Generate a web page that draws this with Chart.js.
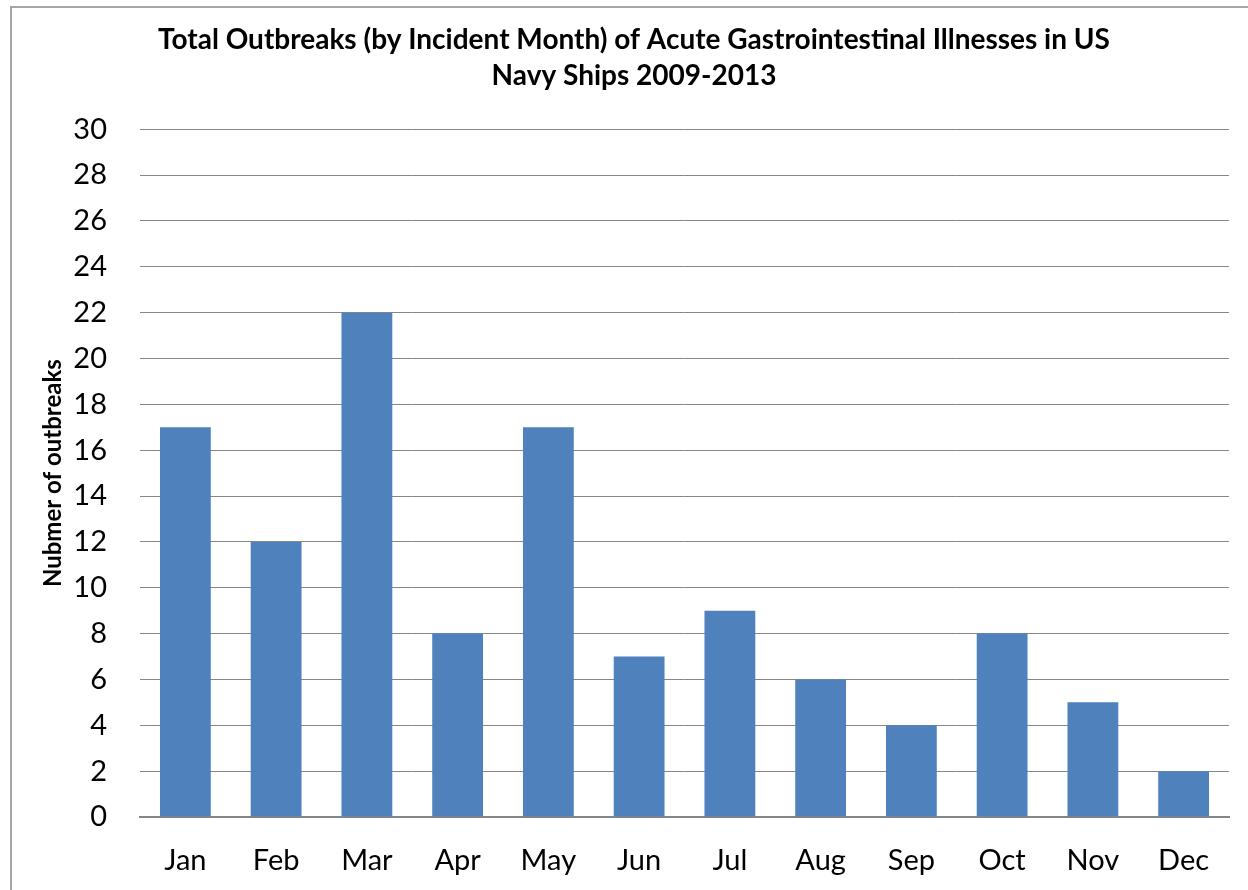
<!DOCTYPE html>
<html>
<head>
<meta charset="utf-8">
<script src="https://cdn.jsdelivr.net/npm/chart.js@4"></script>
<style>
html, body { margin:0; padding:0; overflow:hidden; background:#fff; width:1248px; height:890px; }
#frame { position:absolute; left:10px; top:6px; width:1250px; height:890px; border-left:2px solid #a6a6a6; border-top:2px solid #a6a6a6; }
#wrap { position:absolute; left:11px; top:7px; width:1242px; height:883px; }
</style>
</head>
<body>
<div id="frame"></div>
<div id="wrap"><canvas id="c" width="1242" height="883"></canvas></div>
<script>
const categories = ["Jan","Feb","Mar","Apr","May","Jun","Jul","Aug","Sep","Oct","Nov","Dec"];
const outbreaks = [17,12,22,8,17,7,9,6,4,8,5,2];
const titleLines = ["Total Outbreaks (by Incident Month) of Acute Gastrointestinal Illnesses in US","Navy Ships 2009-2013"];
const yAxisTitle = "Nubmer of outbreaks";

new Chart(document.getElementById('c'), {
  type: 'bar',
  data: { labels: categories, datasets: [{ data: outbreaks, backgroundColor: '#4F81BD', borderWidth: 0, barPercentage: 0.56, categoryPercentage: 1.0 }] },
  options: {
    responsive: false, animation: false,
    layout: { padding: { left: 28, right: 24, top: 0, bottom: 0 } },
    plugins: {
      legend: { display: false }, tooltip: { enabled: false },
      title: { display: true, text: titleLines, color: '#000', font: { family: 'Lato', weight: 'bold', size: 28, lineHeight: 1.29 }, padding: { top: 15, bottom: 35 } }
    },
    scales: {
      x: {
        grid: { display: false, drawTicks: false },
        border: { display: true, color: '#868686', width: 2 },
        ticks: { color: '#000', font: { family: 'Lato', size: 29 }, padding: 26, maxRotation: 0 },
        afterFit: s => { s.height = 73; }
      },
      y: {
        min: 0, max: 30,
        grid: { color: '#878787', lineWidth: 1, drawTicks: false },
        border: { display: false },
        ticks: { stepSize: 2, color: '#000', font: { family: 'Lato', size: 29 }, padding: 33 },
        title: { display: true, text: yAxisTitle, color: '#000', font: { family: 'Lato', weight: 'bold', size: 24 }, padding: 0 },
        afterFit: s => { s.width = 101; }
      }
    }
  }
});
</script>
</body>
</html>
